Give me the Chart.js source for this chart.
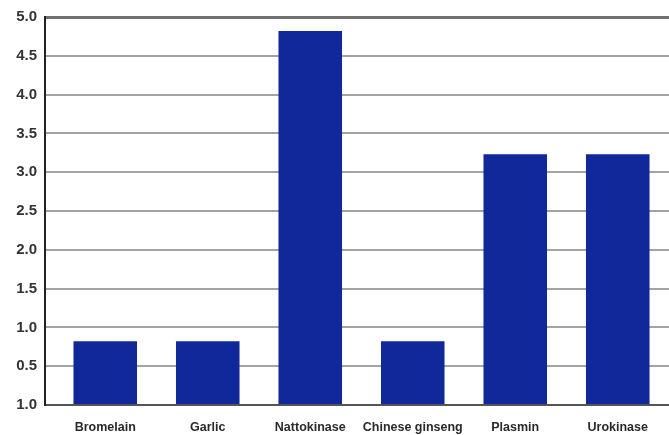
<!DOCTYPE html>
<html><head><meta charset="utf-8">
<script src="https://cdn.jsdelivr.net/npm/chart.js@4"></script>
<style>html,body{margin:0;padding:0;background:#fff}#wrap{width:669px;height:435px}</style>
</head><body><div id="wrap"><canvas id="c" width="669" height="435"></canvas></div>
<script>
const categories = ['Bromelain','Garlic','Nattokinase','Chinese ginseng','Plasmin','Urokinase'];
const values = [0.82, 0.82, 4.82, 0.82, 3.23, 3.23];
const yTickLabels = ['1.0','0.5','1.0','1.5','2.0','2.5','3.0','3.5','4.0','4.5','5.0'];

const axisLine = {
  id: 'axisLine',
  afterDatasetsDraw(chart) {
    const y = chart.scales.y, ctx = chart.ctx;
    const x = chart.chartArea.left - 9;
    ctx.save();
    ctx.strokeStyle = '#222';
    ctx.lineWidth = 2;
    ctx.beginPath();
    ctx.moveTo(x, y.getPixelForValue(5) - 1);
    ctx.lineTo(x, y.getPixelForValue(0) + 1);
    ctx.stroke();
    ctx.restore();
  }
};

new Chart(document.getElementById('c'), {
  type: 'bar',
  data: { labels: categories, datasets: [{ data: values, backgroundColor: '#11289a', barPercentage: 0.62, categoryPercentage: 1 }] },
  plugins: [axisLine],
  options: {
    responsive: false, animation: false,
    layout: { padding: { top: 16, right: 0, left: 0, bottom: 0 } },
    plugins: { legend: { display: false }, tooltip: { enabled: false } },
    scales: {
      x: {
        grid: { display: false },
        border: { display: false },
        ticks: { color: '#2a2a2a', padding: 7, maxRotation: 0, autoSkip: false, font: { family: 'Liberation Sans, Arial, sans-serif', size: 12.5, weight: 'bold' } },
        afterFit(s) { s.height = 30; }
      },
      y: {
        min: 0, max: 5,
        border: { display: false },
        grid: {
          drawTicks: true, tickLength: 9,
          color: c => c.tick && c.tick.value === 5 ? '#707070' : (c.tick && c.tick.value === 0 ? '#555' : '#a3a3a3'),
          lineWidth: c => c.tick && c.tick.value === 5 ? 3 : 2
        },
        ticks: { stepSize: 0.5, padding: 8, color: '#333', font: { family: 'Liberation Sans, Arial, sans-serif', size: 15, weight: 'bold' },
          callback: (v, i) => yTickLabels[i] },
        afterFit(s) { s.width = 54; }
      }
    }
  }
});
</script></body></html>
